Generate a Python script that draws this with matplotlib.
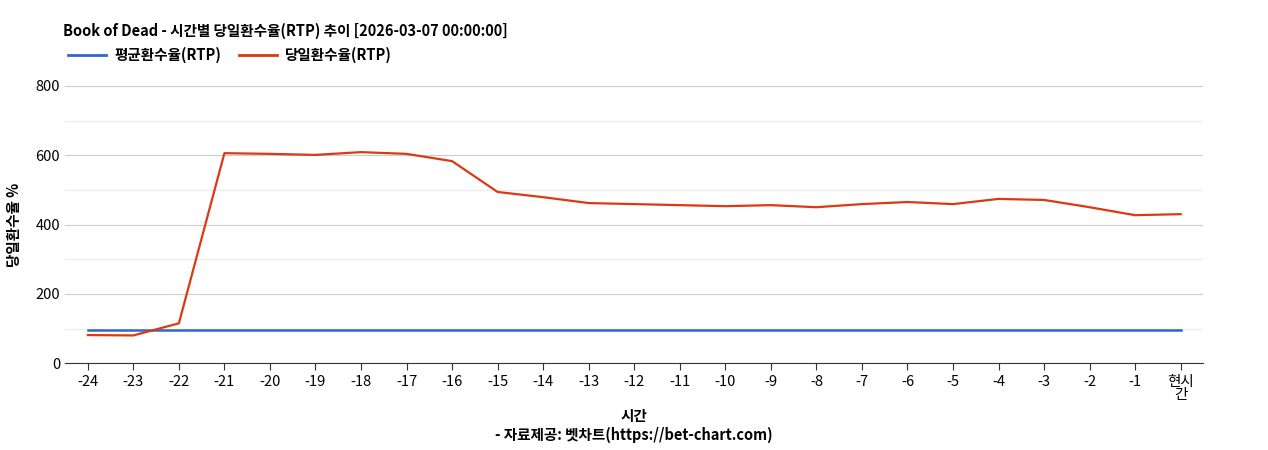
import matplotlib
matplotlib.use("Agg")
import matplotlib.pyplot as plt
from matplotlib.lines import Line2D

plt.rcParams['font.family'] = ['Noto Sans CJK KR', 'DejaVu Sans']

labels = ['-24','-23','-22','-21','-20','-19','-18','-17','-16','-15','-14','-13','-12',
          '-11','-10','-9','-8','-7','-6','-5','-4','-3','-2','-1','현시\n간']
avg_rtp = [96]*25
daily_rtp = [81,80,115,606,604,601,609,604,583,494,479,462,459,456,453,456,450,459,465,459,474,471,450,427,430]

fig = plt.figure(figsize=(12.68,4.5), dpi=100)
ax = fig.add_axes([0.0513,0.193,0.8978,0.616])
x = list(range(len(labels)))
ax.plot(x, avg_rtp, color='#3366cc', lw=1.8)
ax.plot(x, daily_rtp, color='#dc3912', lw=1.6)
ax.set_xlim(-0.5, len(labels)-0.5)
ax.set_ylim(0, 800)
ax.set_yticks([0,200,400,600,800])
ax.set_yticks([100,300,500,700], minor=True)
ax.grid(axis='y', which='major', color='#cccccc', lw=0.8)
ax.grid(axis='y', which='minor', color='#ebebeb', lw=0.8)
ax.tick_params(axis='y', which='both', length=0, labelsize=10.5)
ax.set_xticks(x)
ax.set_xticklabels(labels, fontsize=10.5, linespacing=0.95)
ax.tick_params(axis='x', length=5, color='#333333')
for s in ['top','right','left']:
    ax.spines[s].set_visible(False)
ax.spines['bottom'].set_color('#333333')
ax.set_axisbelow(True)
ax.set_ylabel('당일환수율 %', fontsize=10.5, fontweight='bold', labelpad=10)
ax.set_xlabel('시간\n- 자료제공: 벳차트(https://bet-chart.com)', fontsize=10.5, fontweight='bold', linespacing=1.2, labelpad=4)
fig.text(0.05, 0.932, 'Book of Dead - 시간별 당일환수율(RTP) 추이 [2026-03-07 00:00:00]', fontsize=10.5, fontweight='bold', va='center')
handles = [Line2D([],[],color='#3366cc',lw=2), Line2D([],[],color='#dc3912',lw=2)]
fig.legend(handles, ['평균환수율(RTP)','당일환수율(RTP)'], loc='center left', bbox_to_anchor=(0.043,0.878),
           ncol=2, frameon=False, prop={'weight':'bold','size':10.5}, handlelength=2.6, columnspacing=1.2, handletextpad=0.6)
fig.savefig('out.png', dpi=100)
